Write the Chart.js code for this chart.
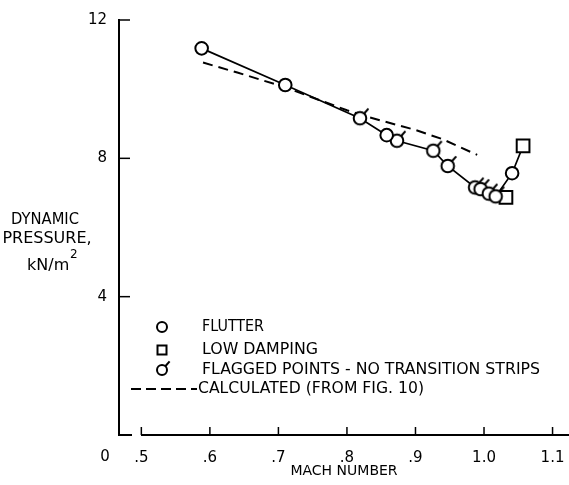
<!DOCTYPE html>
<html><head><meta charset="utf-8">
<script src="https://cdn.jsdelivr.net/npm/chart.js@4"></script>
<style>html,body{margin:0;padding:0;background:#fff}#wrap{width:569px;height:485px}</style>
</head><body><div id="wrap"><canvas id="c" width="569" height="485"></canvas></div>
<script>
// ---- data ----
const flutterMach = [0.588, 0.710, 0.858, 1.041];
const flutterQ    = [11.18, 10.12, 8.67, 7.57];
const flaggedMach = [0.819, 0.873, 0.926, 0.947, 0.987, 0.995, 1.007, 1.017];
const flaggedQ    = [9.16, 8.51, 8.22, 7.78, 7.16, 7.11, 6.98, 6.90];
const lowDampMach = [1.032, 1.057];
const lowDampQ    = [6.87, 8.36];
const fairedMach  = [0.588, 0.710, 0.819, 0.858, 0.873, 0.926, 0.947, 0.987, 0.995, 1.007, 1.017, 1.041, 1.057];
const fairedQ     = [11.18, 10.12, 9.16, 8.67, 8.51, 8.22, 7.78, 7.16, 7.11, 6.98, 6.90, 7.57, 8.36];
const calcMach    = [0.590, 0.640, 0.706, 0.800, 0.830, 0.900, 0.940, 0.990];
const calcQ       = [10.77, 10.48, 10.08, 9.39, 9.20, 8.82, 8.55, 8.10];
const machTicks       = [0.5, 0.6, 0.7, 0.8, 0.9, 1.0, 1.1];
const machTickLabels  = ['.5', '.6', '.7', '.8', '.9', '1.0', '1.1'];
const qTicks          = [0, 4, 8, 12];
const qTickLabels     = ['', '4', '8', '12'];
const legendLabels = ['FLUTTER', 'LOW DAMPING', 'FLAGGED POINTS - NO TRANSITION STRIPS', 'CALCULATED (FROM FIG. 10)'];
const yTitle = ['DYNAMIC', 'PRESSURE,', 'kN/m'];
const xTitle = 'MACH NUMBER';

const FONT = "'DejaVu Sans', sans-serif";
const pts = (xs, ys) => xs.map((x, i) => ({x: x, y: ys[i]}));

function flagCanvas(r) {
  const s = 30, c = s / 2;
  const cv = document.createElement('canvas');
  cv.width = s; cv.height = s;
  const g = cv.getContext('2d');
  g.lineWidth = 2; g.strokeStyle = '#000'; g.fillStyle = '#fff';
  g.beginPath(); g.arc(c, c, r, 0, Math.PI * 2); g.fill(); g.stroke();
  const a = -Math.PI * 0.27;
  g.beginPath();
  g.moveTo(c + r * Math.cos(a), c + r * Math.sin(a));
  g.lineTo(c + (r + 6.5) * Math.cos(a), c + (r + 6.5) * Math.sin(a));
  g.stroke();
  return cv;
}
const flagPt = flagCanvas(6.3);
const flagLeg = flagCanvas(5);

const decor = {
  id: 'decor',
  afterDraw(chart) {
    const ctx = chart.ctx, xs = chart.scales.x, ys = chart.scales.y;
    const x0 = xs.left, y0 = ys.bottom;
    ctx.save();
    ctx.strokeStyle = '#000'; ctx.fillStyle = '#000';
    // axis break
    ctx.fillStyle = '#fff';
    ctx.fillRect(132, y0 - 2, 9, 4);
    ctx.fillStyle = '#000';
    // inward tick marks
    ctx.lineWidth = 1.5;
    qTicks.forEach(v => {
      if (v === 0) return;
      const p = ys.getPixelForValue(v);
      ctx.beginPath(); ctx.moveTo(x0, p); ctx.lineTo(x0 + 11, p); ctx.stroke();
    });
    machTicks.forEach(v => {
      const p = xs.getPixelForValue(v);
      ctx.beginPath(); ctx.moveTo(p, y0); ctx.lineTo(p, y0 - 8); ctx.stroke();
    });
    // origin label
    ctx.font = '15px ' + FONT; ctx.textAlign = 'center'; ctx.textBaseline = 'middle';
    ctx.fillText('0', 105, 457);
    // y title
    ctx.font = '16px ' + FONT;
    ctx.fillText(yTitle[0], 45, 220, 68);
    ctx.fillText(yTitle[1], 47, 239, 90);
    ctx.textAlign = 'left';
    ctx.fillText(yTitle[2], 27, 266, 43);
    ctx.font = '12px ' + FONT;
    ctx.fillText('2', 70, 255);
    // legend
    const lx = 162, tx = 202;
    const rows = [327, 350, 370, 389];
    ctx.lineWidth = 2;
    ctx.fillStyle = '#fff';
    ctx.beginPath(); ctx.arc(lx, rows[0], 5, 0, Math.PI * 2); ctx.fill(); ctx.stroke();
    ctx.beginPath(); ctx.rect(lx - 4.5, rows[1] - 4.5, 9, 9); ctx.fill(); ctx.stroke();
    ctx.drawImage(flagLeg, lx - flagLeg.width / 2, rows[2] - flagLeg.height / 2);
    ctx.setLineDash([10, 5]);
    ctx.beginPath(); ctx.moveTo(131, rows[3]); ctx.lineTo(197, rows[3]); ctx.stroke();
    ctx.setLineDash([]);
    ctx.fillStyle = '#000';
    ctx.font = '16px ' + FONT; ctx.textAlign = 'left'; ctx.textBaseline = 'middle';
    ctx.fillText(legendLabels[0], tx, rows[0], 62);
    ctx.fillText(legendLabels[1], tx, rows[1], 116);
    ctx.fillText(legendLabels[2], tx, rows[2], 338);
    ctx.fillText(legendLabels[3], 198, rows[3], 226);
    ctx.restore();
  }
};

new Chart(document.getElementById('c'), {
  type: 'scatter',
  data: {
    datasets: [
      { label: 'FLUTTER', data: pts(flutterMach, flutterQ), pointStyle: 'circle', pointRadius: 6.3,
        pointBorderWidth: 2, pointBorderColor: '#000', pointBackgroundColor: '#fff', order: 0 },
      { label: 'FLAGGED', data: pts(flaggedMach, flaggedQ), pointStyle: flagPt, pointRadius: 6.3, order: 0 },
      { label: 'LOW DAMPING', data: pts(lowDampMach, lowDampQ), pointStyle: 'rect', pointRadius: 9,
        pointBorderWidth: 2, pointBorderColor: '#000', pointBackgroundColor: '#fff', order: 0 },
      { label: 'faired', data: pts(fairedMach, fairedQ), showLine: true, pointRadius: 0,
        borderColor: '#000', borderWidth: 1.7, tension: 0, order: 2 },
      { label: 'CALCULATED', data: pts(calcMach, calcQ), showLine: true, pointRadius: 0,
        borderColor: '#000', borderWidth: 2, borderDash: [10, 6], tension: 0, order: 2 }
    ]
  },
  options: {
    responsive: false, animation: false, devicePixelRatio: 1,
    layout: { autoPadding: false, padding: { top: 20, right: 0, left: 0, bottom: 0 } },
    plugins: { legend: { display: false }, tooltip: { enabled: false } },
    scales: {
      x: {
        type: 'linear', min: 0.4674, max: 1.124,
        afterBuildTicks: s => { s.ticks = machTicks.map(v => ({ value: v })); },
        afterFit: s => { s.height = 50; s.paddingLeft = 0; s.paddingRight = 0; },
        ticks: { callback: (v, i) => machTickLabels[i], color: '#000', font: { family: FONT, size: 15 },
                 padding: 14, maxRotation: 0, autoSkip: false },
        grid: { display: false, drawTicks: false },
        border: { display: true, color: '#000', width: 2 },
        title: { display: true, text: xTitle, color: '#000', font: { family: FONT, size: 14 },
                 padding: { top: 0, bottom: 5 } }
      },
      y: {
        type: 'linear', min: 0, max: 12,
        afterBuildTicks: s => { s.ticks = qTicks.map(v => ({ value: v })); },
        afterFit: s => { s.width = 119; s.paddingTop = 0; s.paddingBottom = 0; },
        ticks: { callback: (v, i) => qTickLabels[i], color: '#000', font: { family: FONT, size: 15 }, padding: 12 },
        grid: { display: false, drawTicks: false },
        border: { display: true, color: '#000', width: 2 }
      }
    }
  },
  plugins: [decor]
});
</script>
</body></html>
